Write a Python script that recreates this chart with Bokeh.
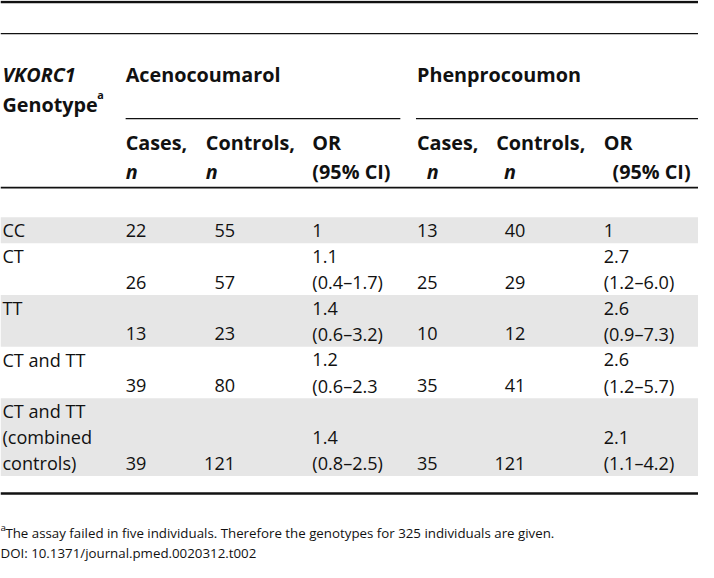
from bokeh.plotting import figure
from bokeh.models import Range1d
from bokeh.core.properties import value
from bokeh.embed import file_html
from bokeh.resources import INLINE

# ---- data -----------------------------------------------------------
genotype_lines = [["CC"], ["CT"], ["TT"], ["CT and TT"],
                  ["CT and TT", "(combined", "controls)"]]
aceno_cases = ["22", "26", "13", "39", "39"]
aceno_controls = ["55", "57", "23", "80", "121"]
aceno_or = ["1", "1.1", "1.4", "1.2", "1.4"]
aceno_ci = ["", "(0.4–1.7)", "(0.6–3.2)", "(0.6–2.3", "(0.8–2.5)"]
pheno_cases = ["13", "25", "10", "35", "35"]
pheno_controls = ["40", "29", "12", "41", "121"]
pheno_or = ["1", "2.7", "2.6", "2.6", "2.1"]
pheno_ci = ["", "(1.2–6.0)", "(0.9–7.3)", "(1.2–5.7)", "(1.1–4.2)"]
drug_names = ["Acenocoumarol", "Phenprocoumon"]
footnote = "The assay failed in five individuals. Therefore the genotypes for 325 individuals are given."
doi_text = "DOI: 10.1371/journal.pmed.0020312.t002"

# ---- layout ---------------------------------------------------------
W, H = 714, 578
PW, PH = 698, 562
FS = PW / W
FONT = value("Open Sans")
BODY = f"{18.5 * FS:.1f}px"
HEAD = f"{20.3 * FS:.1f}px"
SMALL = f"{13.6 * FS:.1f}px"
SUP = f"{10 * FS:.1f}px"
SUPB = f"{11 * FS:.1f}px"
INK = "#111111"
GREY = "#e6e6e6"
DY = -6.0

p = figure(width=PW, height=PH, x_range=Range1d(0, W), y_range=Range1d(H, 0),
           x_axis_type=None, y_axis_type=None, toolbar_location=None,
           output_backend="svg", min_border=0)
p.grid.visible = False
p.outline_line_color = None
p.background_fill_color = "white"
p.border_fill_color = "white"

# row geometry
L = 26.6
top0 = 223.0
nlines = [max(len(g), 2 if (aceno_ci[i] or pheno_ci[i]) else 1)
          for i, g in enumerate(genotype_lines)]
tops = []
t = top0
for n in nlines:
    tops.append(t)
    t += L * n
tops.append(t)

# grey bands
band_t, band_b = [], []
for i in range(len(genotype_lines)):
    if i % 2 == 0:
        band_t.append(tops[i])
        band_b.append(tops[i + 1])
p.quad(left=0, right=W, top=band_t, bottom=band_b, fill_color=GREY, line_color=None)

# rules
def hrule(y, x0, x1, w):
    p.segment(x0=[x0], y0=[y], x1=[x1], y1=[y], line_color=INK, line_width=w)

hrule(1.5, 0, W, 2.6)
hrule(34, 0, W, 1.3)
hrule(121.5, 128, 409, 1.3)
hrule(121.5, 425, W, 1.3)
hrule(192.5, 0, W, 1.6)
hrule(507, 0, W, 2.6)

def txt(xs, ys, texts, size=BODY, style="normal", align="left"):
    p.text(x=xs, y=[y + DY for y in ys], text=texts, text_font=FONT,
           text_font_size=size, text_font_style=style, text_align=align,
           text_baseline="alphabetic", text_color=INK)

# header
txt([2], [82], ["VKORC1"], HEAD, "bold italic")
txt([2], [113], ["Genotype"], HEAD, "bold")
txt([99], [103], ["a"], SUPB, "bold")
txt([128, 426], [82, 82], drug_names, HEAD, "bold")
txt([128, 210, 319, 426, 507, 617], [152] * 6,
    ["Cases,", "Controls,", "OR", "Cases,", "Controls,", "OR"], HEAD, "bold")
txt([128, 210, 436, 515], [182] * 4, ["n", "n", "n", "n"], HEAD, "bold italic")
txt([319, 626], [182, 182], ["(95% CI)", "(95% CI)"], HEAD, "bold")

# body
BASE = 19.5
gx, gy, gt = [], [], []
lx, ly, lt = [], [], []   # left aligned values
rx, ry, rt = [], [], []   # right aligned values
for i, g in enumerate(genotype_lines):
    n = nlines[i]
    for k, line in enumerate(g):
        gx.append(2); gy.append(tops[i] + BASE + L * k); gt.append(line)
    last = tops[i] + BASE + L * (n - 1)
    orl = tops[i] + BASE + L * max(n - 2, 0)
    lx += [128, 319, 426, 617]
    ly += [last, orl, last, orl]
    lt += [aceno_cases[i], aceno_or[i], pheno_cases[i], pheno_or[i]]
    if aceno_ci[i]:
        lx += [319]; ly += [last]; lt += [aceno_ci[i]]
    if pheno_ci[i]:
        lx += [617]; ly += [last]; lt += [pheno_ci[i]]
    rx += [240, 537]; ry += [last, last]
    rt += [aceno_controls[i], pheno_controls[i]]

txt(gx, gy, gt)
txt(lx, ly, lt)
txt(rx, ry, rt, align="right")

# footnote
txt([0], [548], ["a"], SUP)
txt([5], [554], [footnote], SMALL)
txt([0], [574], [doi_text], SMALL)

open("out.html", "w").write(file_html(p, INLINE))
